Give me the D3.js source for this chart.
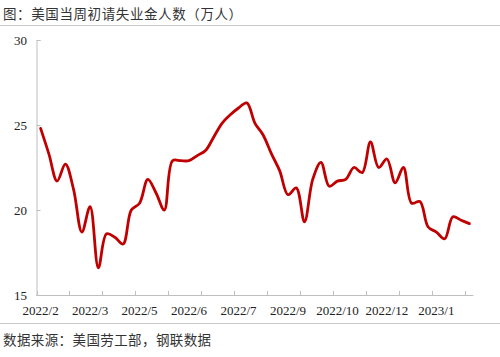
<!DOCTYPE html>
<html>
<head>
<meta charset="utf-8">
<script src="https://cdn.jsdelivr.net/npm/d3@7"></script>
<style>
  body { margin: 0; background: #fff; }
  svg { display: block; }
</style>
</head>
<body>
<svg id="chart" width="500" height="357"></svg>
<script>
// ---- data ----
const startDate = "2022-02-12";            // first weekly observation
const values = [
  24.8, 23.3, 21.7, 22.7, 21.2, 18.7, 20.2, 16.6, 18.6, 18.4,
  18.0, 20.0, 20.4, 21.8, 21.0, 20.0, 22.9, 22.9, 22.9, 23.2,
  23.5, 24.3, 25.1, 25.6, 26.0, 26.3, 25.1, 24.4, 23.3, 22.3,
  20.9, 21.3, 19.3, 21.8, 22.8, 21.4, 21.7, 21.8, 22.5, 22.2,
  24.0, 22.5, 23.0, 21.6, 22.5, 20.4, 20.5, 19.0, 18.7, 18.3,
  19.6, 19.4, 19.2
];
const yTicks = [15, 20, 25, 30];
const labelEvery = 6;   // category label interval
const tickEvery = 4;    // tick mark interval
const titleText = "图：美国当周初请失业金人数（万人）";
const sourceText = "数据来源：美国劳工部，钢联数据";

// ---- build categories ----
const parse = d3.timeParse("%Y-%m-%d");
const fmt = d => d.getFullYear() + "/" + (d.getMonth() + 1);
const dates = values.map((v, i) => d3.timeWeek.offset(parse(startDate), i));
const data = dates.map((d, i) => ({ date: d, key: i, value: values[i] }));

const svg = d3.select("#chart");
const pLeft = 36.5, pRight = 473.5, pTop = 40, pBottom = 295;

const x = d3.scaleBand().domain(data.map(d => d.key)).range([pLeft, pRight]).padding(0);
const y = d3.scaleLinear().domain([15, 30]).range([pBottom, pTop]);

const axisColor = "#bfbfbf";
const serif = "'Liberation Serif', 'Times New Roman', serif";
const cjk = "'Noto Sans CJK SC', sans-serif";

// title & separators
svg.append("text").attr("x", 3).attr("y", 19)
  .attr("font-family", cjk).attr("font-size", 13.5).attr("fill", "#333")
  .attr("letter-spacing", 0.6)
  .text(titleText);
svg.append("line").attr("x1", 0).attr("x2", 500).attr("y1", 25.5).attr("y2", 25.5)
  .attr("stroke", "#c8c8c8").attr("stroke-width", 1);
svg.append("line").attr("x1", 0).attr("x2", 500).attr("y1", 323.5).attr("y2", 323.5)
  .attr("stroke", "#c8c8c8").attr("stroke-width", 1);
svg.append("text").attr("x", 3).attr("y", 345)
  .attr("font-family", cjk).attr("font-size", 13.5).attr("fill", "#333")
  .attr("letter-spacing", 0.4)
  .text(sourceText);

// y axis
const yAxis = d3.axisRight(y).tickValues(yTicks).tickSize(4).tickFormat("");
const gy = svg.append("g").attr("transform", `translate(${pLeft},0)`).call(yAxis);
gy.select(".domain").attr("stroke", axisColor);
gy.selectAll(".tick line").attr("stroke", axisColor);
svg.selectAll(".ylab").data(yTicks).enter().append("text")
  .attr("class", "ylab")
  .attr("x", 27).attr("y", d => y(d) + 4.5)
  .attr("text-anchor", "end")
  .attr("font-family", serif).attr("font-size", 13).attr("fill", "#222")
  .text(d => d);

// x axis line
svg.append("line").attr("x1", pLeft).attr("x2", pRight)
  .attr("y1", pBottom + 0.5).attr("y2", pBottom + 0.5)
  .attr("stroke", axisColor);

// x tick marks (category boundaries, every tickEvery)
const bw = x.bandwidth();
const tickIdx = d3.range(0, data.length + 1, tickEvery);
svg.selectAll(".xtick").data(tickIdx).enter().append("line")
  .attr("class", "xtick")
  .attr("x1", i => Math.round(pLeft + i * bw) + 0.5)
  .attr("x2", i => Math.round(pLeft + i * bw) + 0.5)
  .attr("y1", pBottom - 4).attr("y2", pBottom)
  .attr("stroke", axisColor);

// x labels
const labelData = data.filter((d, i) => i % labelEvery === 0);
svg.selectAll(".xlab").data(labelData).enter().append("text")
  .attr("class", "xlab")
  .attr("x", d => x(d.key) + bw / 2)
  .attr("y", 315)
  .attr("text-anchor", "middle")
  .attr("font-family", serif).attr("font-size", 13).attr("fill", "#222")
  .text(d => fmt(d.date));

// line
const line = d3.line()
  .x(d => x(d.key) + bw / 2)
  .y(d => y(d.value))
  .curve(d3.curveCatmullRom.alpha(0.5));
svg.append("path").datum(data)
  .attr("d", line)
  .attr("fill", "none")
  .attr("stroke", "#c00000")
  .attr("stroke-width", 2.8)
  .attr("stroke-linejoin", "round")
  .attr("stroke-linecap", "round");
</script>
</body>
</html>
